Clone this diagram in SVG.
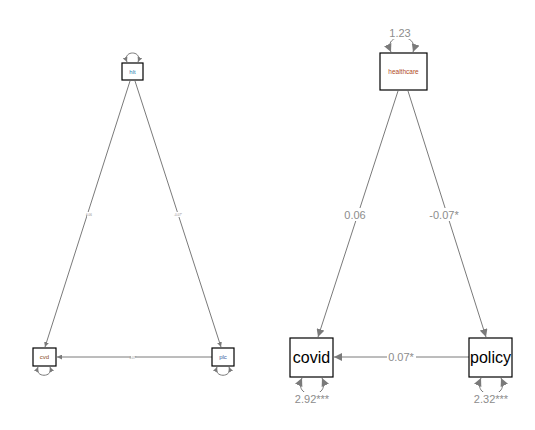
<svg xmlns="http://www.w3.org/2000/svg" width="535" height="430" viewBox="0 0 535 430">
<style>
.box{fill:#fff;stroke:#000;stroke-width:1.2}
.edge{fill:none;stroke:#7a7a7a;stroke-width:1}
.lbl{font-family:"Liberation Sans",Arial,sans-serif;fill:#8c8c8c;text-anchor:middle}
.nl{font-family:"Liberation Sans",Arial,sans-serif;fill:#000;text-anchor:middle}
.bg{fill:#fff}
</style>
<defs>
<marker id="ah" viewBox="0 0 10 10" refX="10" refY="5" markerWidth="8" markerHeight="8" markerUnits="userSpaceOnUse" orient="auto-start-reverse">
<path d="M0,0 L10,5 L0,10 z" fill="#7a7a7a"/>
</marker>
<marker id="as" viewBox="0 0 10 10" refX="10" refY="5" markerWidth="5" markerHeight="5" markerUnits="userSpaceOnUse" orient="auto-start-reverse">
<path d="M0,0 L10,5 L0,10 z" fill="#7a7a7a"/>
</marker>
</defs>
<g id="connectors">
<path class="edge" d="M130,81 L45,347" marker-end="url(#as)"/>
<path class="edge" d="M135,81 L221,347" marker-end="url(#as)"/>
<path class="edge" d="M212,357 L57,357" marker-end="url(#as)"/>
<path class="edge" d="M127,62 C122,50 143,50 138,62" marker-start="url(#as)" marker-end="url(#as)"/>
<path class="edge" d="M38,367 C34,378 54,378 50,367" marker-start="url(#as)" marker-end="url(#as)"/>
<path class="edge" d="M217,367 C213,378 233,378 229,367" marker-start="url(#as)" marker-end="url(#as)"/>
<rect class="bg" x="87" y="212" width="4" height="5"/>
<text class="lbl" x="89" y="216" font-size="3">0.06</text>
<rect class="bg" x="176" y="212" width="4" height="5"/>
<text class="lbl" x="178" y="216" font-size="3">-0.07*</text>
<rect class="bg" x="131" y="355" width="4" height="5"/>
<text class="lbl" x="133" y="359" font-size="3">0.07*</text>
<path class="edge" d="M398,91 L318,337" marker-end="url(#ah)"/>
<path class="edge" d="M408,91 L486,337" marker-end="url(#ah)"/>
<path class="edge" d="M469,357 L334,357" marker-end="url(#ah)"/>
<path class="edge" d="M391,52 C382,32 420,32 413,52" marker-start="url(#ah)" marker-end="url(#ah)"/>
<path class="edge" d="M302,378 C292,400 332,400 322,378" marker-start="url(#ah)" marker-end="url(#ah)"/>
<path class="edge" d="M481,378 C471,400 511,400 501,378" marker-start="url(#ah)" marker-end="url(#ah)"/>
<rect class="bg" x="343" y="208" width="24" height="13"/>
<text class="lbl" x="355" y="219" font-size="11">0.06</text>
<rect class="bg" x="428" y="208" width="33" height="13"/>
<text class="lbl" x="444" y="219" font-size="11">-0.07*</text>
<rect class="bg" x="387" y="351" width="29" height="13"/>
<text class="lbl" x="401" y="361" font-size="11">0.07*</text>
<rect class="bg" x="388" y="27" width="24" height="12"/>
<text class="lbl" x="400" y="37" font-size="11">1.23</text>
<rect class="bg" x="293" y="392" width="38" height="12"/>
<text class="lbl" x="312" y="403" font-size="11">2.92***</text>
<rect class="bg" x="472" y="392" width="38" height="12"/>
<text class="lbl" x="491" y="403" font-size="11">2.32***</text>
</g>
<g id="node-hlt"><rect class="box" x="122" y="63" width="21" height="17"/><text class="nl" x="132.5" y="74" font-size="6" fill="#2a7fb0" style="fill:#2a7fb0">hlt</text></g>
<g id="node-cvd"><rect class="box" x="33" y="348" width="23" height="18"/><text class="nl" x="44.5" y="359" font-size="6" style="fill:#8a4a1a">cvd</text></g>
<g id="node-plc"><rect class="box" x="212" y="348" width="22" height="18"/><text class="nl" x="223" y="359" font-size="6" style="fill:#3a5aa0">plc</text></g>
<g id="node-healthcare"><rect class="box" x="380" y="53" width="47" height="37"/><text class="nl" x="403.5" y="74" font-size="6.5" style="fill:#b04a1a">healthcare</text></g>
<g id="node-covid"><rect class="box" x="290" y="338" width="43" height="39"/><text class="nl" x="311.5" y="363" font-size="16">covid</text></g>
<g id="node-policy"><rect class="box" x="469" y="338" width="43" height="39"/><text class="nl" x="490.5" y="363" font-size="16">policy</text></g>
</svg>
